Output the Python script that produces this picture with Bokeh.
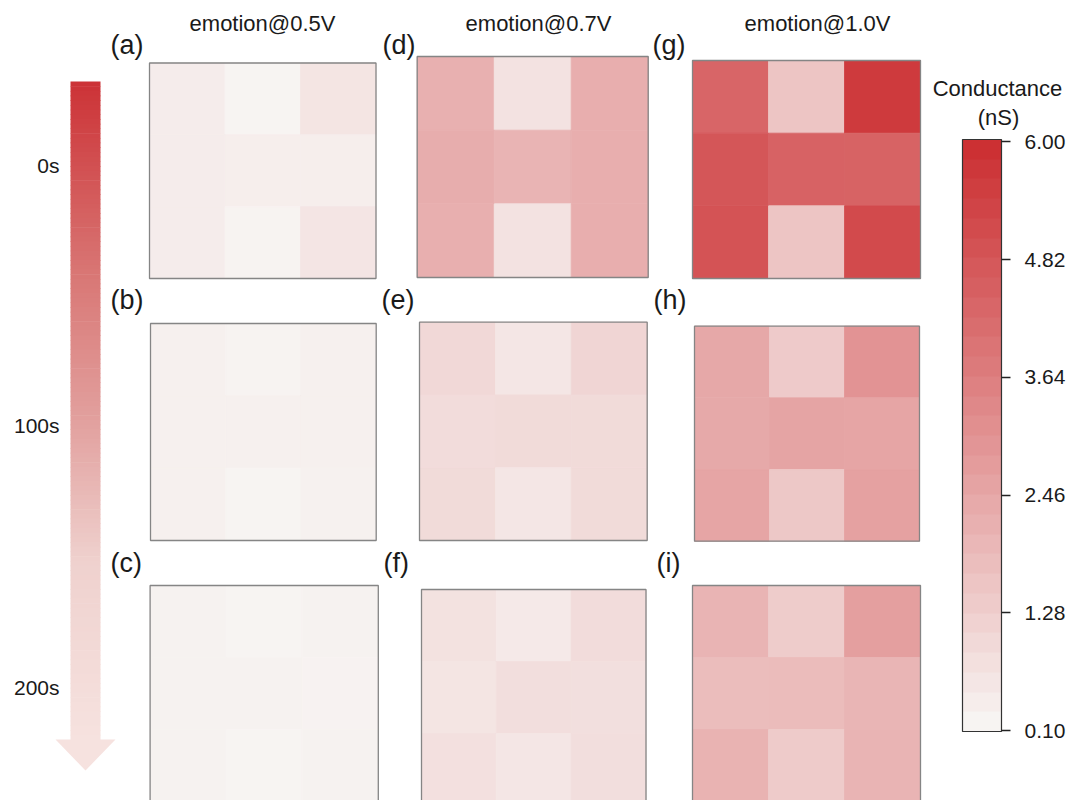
import numpy as np
from bokeh.plotting import figure
from bokeh.models import (Range1d, LinearColorMapper, ColorBar, FixedTicker,
                          PrintfTickFormatter, ColumnDataSource)
from bokeh.core.properties import value
from bokeh.transform import linear_cmap
from bokeh.embed import file_html
from bokeh.resources import INLINE

# ---------------- data ----------------
voltages = ["0.5V", "0.7V", "1.0V"]
times = ["0s", "100s", "200s"]
panel_letters = [["a", "b", "c"], ["d", "e", "f"], ["g", "h", "i"]]
cbar_ticks = [0.10, 1.28, 2.46, 3.64, 4.82, 6.00]

# conductance (nS); rows top->bottom, columns left->right
g05_0s = [[0.34, 0.12, 0.58], [0.34, 0.30, 0.30], [0.34, 0.14, 0.55]]
g05_100s = [[0.22, 0.13, 0.22], [0.22, 0.22, 0.22], [0.22, 0.12, 0.20]]
g05_200s = [[0.19, 0.12, 0.19], [0.19, 0.19, 0.16], [0.19, 0.12, 0.19]]
g07_0s = [[2.15, 0.64, 2.20], [2.24, 2.03, 2.20], [2.18, 0.64, 2.20]]
g07_100s = [[0.94, 0.52, 1.03], [0.82, 0.88, 0.88], [0.88, 0.52, 0.88]]
g07_200s = [[0.67, 0.43, 0.82], [0.58, 0.76, 0.73], [0.70, 0.52, 0.76]]
g10_0s = [[4.40, 1.51, 5.70], [4.86, 4.50, 4.46], [4.95, 1.51, 5.20]]
g10_100s = [[2.39, 1.36, 3.02], [2.36, 2.51, 2.48], [2.48, 1.42, 2.60]]
g10_200s = [[2.03, 1.30, 2.66], [1.76, 1.79, 2.00], [2.06, 1.33, 2.03]]

grids = [[g05_0s, g05_100s, g05_200s],
         [g07_0s, g07_100s, g07_200s],
         [g10_0s, g10_100s, g10_200s]]

# ---------------- layout (page pixels) ----------------
# (left, right, top, bottom) per voltage column, per time row
panel_boxes = [
    [(149, 375.5, 62.5, 278), (150, 375.7, 323, 540), (149.6, 377.8, 585, 801)],
    [(416.7, 647.7, 56, 277), (419, 646.7, 321.7, 540), (421, 645.5, 589, 805)],
    [(692, 920, 60, 278), (694, 919, 325.7, 540.7), (692, 920, 585, 801)],
]
title_x = [262, 538, 817]
title_y = 23
label_x = [[110, 110, 110], [382, 381, 383], [652, 653, 656]]
label_y = [44, 299, 562]
time_x = 59
time_y = [165, 425, 687]

W, H = 1071, 800

LOW_RGB = np.array([247, 244, 242])
HIGH_RGB = np.array([204, 48, 51])


def make_palette(n):
    out = []
    for k in range(n):
        t = k / (n - 1)
        c = LOW_RGB + (HIGH_RGB - LOW_RGB) * t
        out.append("#%02x%02x%02x" % tuple(int(round(x)) for x in c))
    return out


def hex_to_rgb(h):
    h = h.lstrip("#")
    return np.array([int(h[i:i + 2], 16) for i in (0, 2, 4)], dtype=float)


arrow_stops = [(0.0, "#cc3236"), (0.30, "#d97876"), (0.52, "#e2a19f"),
               (0.73, "#efd1ce"), (1.0, "#f6e2df")]


def stop_color(t):
    for (t0, c0), (t1, c1) in zip(arrow_stops[:-1], arrow_stops[1:]):
        if t0 <= t <= t1:
            f = (t - t0) / (t1 - t0)
            c = hex_to_rgb(c0) + (hex_to_rgb(c1) - hex_to_rgb(c0)) * f
            return "#%02x%02x%02x" % tuple(int(round(x)) for x in c)
    return arrow_stops[-1][1]


FONT = value("Liberation Sans")
TXT = "#1a1a1a"

p = figure(width=W, height=H, x_range=Range1d(0, W),
           y_range=Range1d(H, 0), output_backend="svg",
           toolbar_location=None, min_border=0, outline_line_color=None,
           x_axis_location=None, y_axis_location=None,
           background_fill_color="white", border_fill_color="white")
p.grid.visible = False

# ---------------- heatmap cells ----------------
L, R, T, B, V = [], [], [], [], []
for c in range(3):
    for r in range(3):
        grid = grids[c][r]
        x0, x1, y0, y1 = panel_boxes[c][r]
        cw = (x1 - x0) / 3
        ch = (y1 - y0) / 3
        for i in range(3):
            for j in range(3):
                L.append(x0 + j * cw)
                R.append(x0 + (j + 1) * cw)
                T.append(y0 + i * ch)
                B.append(y0 + (i + 1) * ch)
                V.append(grid[i][j])

cells = ColumnDataSource(dict(left=L, right=R, top=T, bottom=B, g=V))
cell_cmap = linear_cmap("g", make_palette(256), 0.1, 6.0)
p.quad(left="left", right="right", top="top", bottom="bottom", source=cells,
       fill_color=cell_cmap, line_color=cell_cmap, line_width=0.8)

# panel frames
p.quad(left=[b[0] for col in panel_boxes for b in col],
       right=[b[1] for col in panel_boxes for b in col],
       top=[b[2] for col in panel_boxes for b in col],
       bottom=[b[3] for col in panel_boxes for b in col],
       fill_color=None, line_color="#858585", line_width=1.3)

# ---------------- titles & labels ----------------
p.text(x=title_x, y=[title_y] * 3, text=["emotion@" + v for v in voltages],
       text_font=FONT, text_font_size="22px", text_color=TXT,
       text_align="center", text_baseline="middle")

lx, ly, lt = [], [], []
for c in range(3):
    for r in range(3):
        lx.append(label_x[c][r])
        ly.append(label_y[r])
        lt.append("(" + panel_letters[c][r] + ")")
p.text(x=lx, y=ly, text=lt, text_font=FONT, text_font_size="27px",
       text_color=TXT, text_align="left", text_baseline="middle")

p.text(x=[time_x] * 3, y=time_y, text=times, text_font=FONT,
       text_font_size="21px", text_color=TXT, text_align="right",
       text_baseline="middle")

# ---------------- time arrow ----------------
arrow_top, arrow_base, arrow_tip = 81, 739, 770
n_str = 140
edges = np.linspace(arrow_top, arrow_base, n_str + 1)
p.quad(left=70, right=100, top=edges[:-1], bottom=edges[1:] + 0.6,
       fill_color=[stop_color((k + 0.5) / n_str) for k in range(n_str)],
       line_color=None)
p.patch(x=[55, 115, 85], y=[arrow_base, arrow_base, arrow_tip],
        fill_color=arrow_stops[-1][1], line_color=None)

# ---------------- colour bar ----------------
cb_mapper = LinearColorMapper(palette=make_palette(30), low=0.09, high=6.025)
cb = ColorBar(color_mapper=cb_mapper, ticker=FixedTicker(ticks=cbar_ticks),
              formatter=PrintfTickFormatter(format="%.2f"),
              location=(962, H - 731), width=39, height=592, padding=0,
              major_tick_in=0, major_tick_out=9,
              major_tick_line_color="#222222", major_tick_line_width=1.5,
              minor_tick_line_color=None,
              label_standoff=14,
              major_label_text_font="Liberation Sans",
              major_label_text_font_size="21px",
              major_label_text_color=TXT,
              bar_line_color="#333333", bar_line_width=1.2,
              background_fill_alpha=0, border_line_color=None)
p.add_layout(cb)

p.text(x=[997, 998], y=[88, 117], text=["Conductance", "(nS)"],
       text_font=FONT, text_font_size="22px", text_color=TXT,
       text_align="center", text_baseline="middle")

open("out.html", "w").write(file_html(p, INLINE))
